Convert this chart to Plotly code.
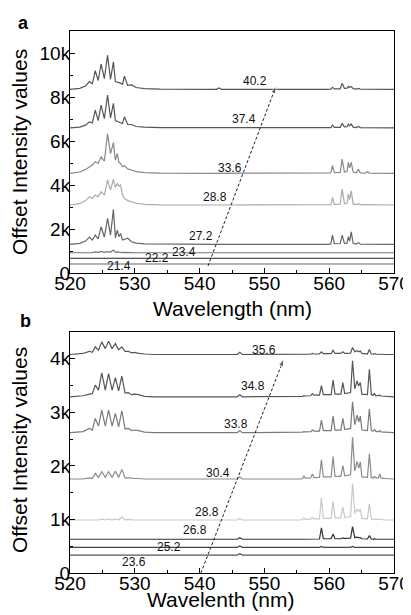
"""Stacked emission spectra, two panels (a, b)."""

import plotly.graph_objects as go

# ---- panel a: wavelength grid (nm) and intensity above each baseline ----
WL_A = [520.0, 521.5, 522.4, 523.0, 523.45, 523.9, 524.35, 524.8, 525.3, 525.8,
        526.25, 526.7, 527.0, 527.3, 527.55, 527.8, 528.1, 528.4, 528.9, 529.5,
        530.2, 531.5, 534.0, 542.6, 543.0, 543.4,
        559.8, 560.25, 560.5, 560.8, 561.7, 562.0, 562.35, 562.75, 562.95, 563.15,
        563.4, 563.7, 564.2, 564.5, 564.8, 565.6, 565.9, 566.2, 570.0]

A_402 = [0, 40, 150, 350, 250, 850, 400, 1150, 480, 1550, 450, 1250, 350, 330, 300,
         280, 230, 600, 180, 200, 80, 30, 10, 0, 60, 0,
         0, 10, 90, 15, 20, 270, 40, 50, 130, 80, 130, 30, 10, 40, 10, 5, 30, 5, 0]
A_374 = [0, 30, 120, 270, 220, 800, 330, 1030, 420, 1490, 450, 1110, 330, 280, 250,
         230, 200, 500, 150, 150, 60, 30, 10, 0, 0, 0,
         0, 10, 120, 15, 20, 200, 40, 50, 170, 90, 170, 30, 10, 60, 10, 5, 30, 5, 0]
A_336 = [0, 60, 180, 300, 380, 530, 450, 750, 550, 1800, 900, 1400, 600, 900, 500,
         450, 300, 350, 200, 150, 80, 30, 10, 0, 0, 0,
         0, 20, 350, 30, 40, 650, 60, 80, 500, 250, 500, 60, 20, 180, 20, 10, 80, 10, 0]
A_288 = [0, 60, 200, 380, 300, 450, 380, 600, 450, 1140, 680, 1170, 800, 990, 850,
         910, 450, 300, 200, 150, 80, 30, 10, 0, 0, 0,
         0, 20, 350, 30, 40, 730, 60, 80, 500, 250, 640, 50, 15, 60, 15, 10, 30, 5, 0]
A_272 = [0, 50, 150, 330, 200, 420, 250, 800, 330, 1180, 420, 1590, 300, 650, 350,
         500, 200, 220, 280, 120, 60, 20, 10, 0, 0, 0,
         0, 20, 420, 30, 40, 420, 50, 60, 350, 150, 570, 40, 15, 80, 15, 10, 20, 5, 0]
A_234 = [0, 0, 10, 30, 10, 40, 20, 60, 20, 50, 30, 120, 20, 40, 20,
         30, 10, 20, 10, 10, 0, 0, 0, 0, 0, 0,
         0, 0, 20, 0, 0, 30, 0, 0, 20, 0, 30, 0, 0, 10, 0, 0, 0, 0, 0]
A_222 = [0, 0, 0, 10, 0, 10, 0, 15, 0, 20, 0, 25, 0, 10, 0,
         10, 0, 10, 0, 0, 0, 0, 0, 0, 0, 0,
         0, 0, 10, 0, 0, 10, 0, 0, 0, 0, 10, 0, 0, 0, 0, 0, 0, 0, 0]
A_214 = [0, 0, 0, 5, 0, 5, 0, 10, 0, 10, 0, 10, 0, 5, 0,
         5, 0, 5, 0, 0, 0, 0, 0, 0, 0, 0,
         0, 0, 5, 0, 0, 5, 0, 0, 0, 0, 5, 0, 0, 0, 0, 0, 0, 0, 0]

A_LABELS = ["40.2", "37.4", "33.6", "28.8", "27.2", "23.4", "22.2", "21.4"]
A_OFFSETS = [8350, 6600, 4530, 3090, 1300, 920, 670, 410]
A_SPECTRA = [A_402, A_374, A_336, A_288, A_272, A_234, A_222, A_214]
A_ARROW_X = [541.3, 551.8]
A_ARROW_Y = [320, 8500]
A_YTICKS = [0, 2000, 4000, 6000, 8000, 10000]
A_YTEXT = ["0", "2k", "4k", "6k", "8k", "10k"]

# ---- panel b ----
WL_B = [520.0, 522.0, 523.0, 523.45, 523.9, 524.4, 524.9, 525.45, 525.95, 526.5,
        527.0, 527.5, 528.0, 528.5, 529.0, 529.5, 530.0, 530.6, 531.5, 533.0,
        545.8, 546.2, 546.6,
        555.5, 555.9, 556.1, 556.3, 557.15, 557.4, 557.65, 558.5, 558.8, 559.1,
        560.3, 560.6, 560.9, 561.8, 562.1, 562.4, 563.3, 563.6, 563.95, 564.3,
        564.55, 564.8, 565.05, 565.9, 566.2, 566.5, 566.8, 567.0, 567.2, 567.6,
        567.8, 568.0, 568.6, 570.0]

B_356 = [0, 20, 60, 40, 143, 80, 236, 110, 249, 110, 205, 90, 143, 60, 60, 30, 40, 20, 10, 0,
         0, 40, 0,
         0, 5, 10, 5, 5, 20, 10, 10, 50, 15, 15, 80, 20, 20, 50, 20, 25, 130, 50, 70,
         50, 70, 20, 10, 93, 10, 5, 20, 5, 5, 10, 5, 0, 0]
B_348 = [0, 20, 50, 60, 218, 125, 448, 125, 435, 125, 360, 110, 385, 70, 80, 40, 50, 40, 10, 0,
         0, 40, 0,
         0, 10, 20, 15, 20, 60, 30, 30, 210, 40, 40, 311, 50, 50, 267, 60, 80, 672, 150, 298,
         200, 267, 50, 40, 516, 40, 30, 60, 20, 20, 30, 15, 10, 0]
B_338 = [0, 20, 80, 50, 267, 125, 423, 125, 423, 125, 360, 110, 410, 70, 80, 40, 50, 40, 10, 0,
         0, 40, 0,
         0, 10, 20, 15, 20, 50, 30, 30, 236, 40, 40, 311, 50, 50, 267, 60, 80, 578, 150, 330,
         200, 310, 50, 40, 442, 40, 30, 60, 20, 20, 40, 15, 10, 0]
B_304 = [0, 0, 20, 10, 106, 30, 137, 30, 137, 30, 150, 30, 180, 20, 20, 10, 10, 10, 0, 0,
         0, 40, 0,
         0, 10, 62, 15, 20, 93, 25, 30, 360, 40, 40, 420, 50, 50, 250, 60, 80, 778, 150, 330,
         200, 320, 40, 30, 470, 30, 20, 50, 20, 20, 93, 15, 10, 0]
B_288 = [0, 0, 0, 0, 10, 0, 15, 0, 20, 0, 20, 0, 60, 0, 10, 0, 0, 0, 0, 0,
         0, 30, 0,
         0, 10, 40, 10, 15, 50, 20, 20, 410, 30, 30, 350, 40, 40, 240, 50, 60, 680, 120, 210,
         150, 205, 30, 20, 300, 20, 10, 20, 10, 10, 20, 10, 0, 0]
B_268 = [0, 0, 0, 0, 0, 0, 0, 0, 0, 0, 0, 0, 0, 0, 0, 0, 0, 0, 0, 0,
         0, 30, 0,
         0, 0, 0, 0, 0, 10, 0, 5, 211, 10, 10, 100, 10, 10, 25, 15, 20, 236, 30, 40,
         30, 30, 10, 5, 68, 5, 0, 10, 0, 0, 0, 0, 0, 0]
B_252 = [0, 0, 0, 0, 0, 0, 0, 0, 0, 0, 0, 0, 0, 0, 0, 0, 0, 0, 0, 0,
         0, 25, 0,
         0, 0, 0, 0, 0, 0, 0, 0, 15, 0, 0, 5, 0, 0, 0, 0, 0, 15, 0, 0,
         0, 0, 0, 0, 5, 0, 0, 0, 0, 0, 0, 0, 0, 0]
B_236 = [0, 0, 0, 0, 0, 0, 0, 0, 0, 0, 0, 0, 0, 0, 0, 0, 0, 0, 0, 0,
         0, 25, 0,
         0, 0, 0, 0, 0, 0, 0, 0, 0, 0, 0, 0, 0, 0, 0, 0, 0, 5, 0, 0,
         0, 0, 0, 0, 0, 0, 0, 0, 0, 0, 0, 0, 0, 0]

B_LABELS = ["35.6", "34.8", "33.8", "30.4", "28.8", "26.8", "25.2", "23.6"]
B_OFFSETS = [4080, 3290, 2620, 1755, 990, 630, 480, 335]
B_SPECTRA = [B_356, B_348, B_338, B_304, B_288, B_268, B_252, B_236]
B_ARROW_X = [540.2, 553.0]
B_ARROW_Y = [0, 4000]
B_YTICKS = [0, 1000, 2000, 3000, 4000]
B_YTEXT = ["0", "1k", "2k", "3k", "4k"]

X_TICKS = [520, 530, 540, 550, 560, 570]

# styling / placement
A_COLORS = ["#555555", "#555555", "#888888", "#aaaaaa", "#666666", "#777777", "#222222", "#666666"]
B_COLORS = ["#555555", "#555555", "#7a7a7a", "#8c8c8c", "#c8c8c8", "#333333", "#444444", "#555555"]
A_LABEL_POS = [(548.5, 8730), (546.9, 7000), (544.7, 4770), (542.4, 3450),
               (540.2, 1680), (537.6, 950), (533.4, 680), (527.6, 320)]
B_LABEL_POS = [(550.0, 4160), (548.2, 3500), (545.6, 2790), (542.8, 1860),
               (541.1, 1130), (539.3, 800), (535.3, 480), (529.8, 210)]

FONT = "Liberation Sans, Arial, sans-serif"

fig = go.Figure()
annotations = []


def add_panel(xref, yref, wl, spectra, offsets, colors, labels, label_pos, ax, ay):
    for spec, off, col in zip(spectra, offsets, colors):
        fig.add_trace(go.Scatter(
            x=wl, y=[off + v for v in spec], mode="lines",
            line=dict(color=col, width=1.2), xaxis=xref, yaxis=yref,
            hoverinfo="skip", showlegend=False,
        ))
    fig.add_trace(go.Scatter(
        x=ax, y=ay, mode="lines+markers",
        line=dict(color="#222222", width=1, dash="3px,2px"),
        marker=dict(symbol="arrow", angleref="previous", size=[0, 8], color="#222222"),
        xaxis=xref, yaxis=yref, hoverinfo="skip", showlegend=False,
    ))
    for text, (lx, ly) in zip(labels, label_pos):
        annotations.append(dict(
            x=lx, y=ly, xref=xref, yref=yref, text=text, showarrow=False,
            font=dict(size=12, color="#111111", family=FONT),
        ))


add_panel("x", "y", WL_A, A_SPECTRA, A_OFFSETS, A_COLORS, A_LABELS, A_LABEL_POS,
          A_ARROW_X, A_ARROW_Y)
add_panel("x2", "y2", WL_B, B_SPECTRA, B_OFFSETS, B_COLORS, B_LABELS, B_LABEL_POS,
          B_ARROW_X, B_ARROW_Y)


def paper_text(text, x, y, size, angle=0, bold=False, xanchor="center", yanchor="middle"):
    annotations.append(dict(
        x=x, y=y, xref="paper", yref="paper", xanchor=xanchor, yanchor=yanchor,
        text=f"<b>{text}</b>" if bold else text, textangle=angle, showarrow=False,
        font=dict(size=size, color="black", family=FONT),
    ))


# panel letters (anchored at their top-left corner) and axis titles
paper_text("a", -0.166, 1.036, 18, bold=True, xanchor="left", yanchor="top")
paper_text("b", -0.160, 0.487, 18, bold=True, xanchor="left", yanchor="top")
paper_text("Wavelength (nm)", 0.5, 0.4889, 21)
paper_text("Wavelenth (nm)", 0.463, -0.048, 21)
paper_text("Offset Intensity values", -0.154, 0.7768, 21, angle=-90)
paper_text("Offset Intensity values", -0.154, 0.227, 21, angle=-90)

axis_common = dict(
    showline=True, linecolor="black", linewidth=1, mirror=True,
    ticks="inside", ticklen=5, tickcolor="black", showgrid=False, zeroline=False,
    tickfont=dict(size=19, color="black", family=FONT), automargin=False,
    ticklabeloverflow="allow",
)
x_minor = dict(ticks="inside", ticklen=3, dtick=5, tick0=520, tickcolor="black")

# the page body adds an 8px margin on the left/top, so shrink the figure by 8px
fig.update_layout(
    width=403, height=607,
    margin=dict(l=62, r=17, t=23, b=42, autoexpand=False),
    paper_bgcolor="white", plot_bgcolor="white",
    font=dict(family=FONT, color="black"),
    annotations=annotations,
    xaxis=dict(domain=[0, 1], range=[520, 570], anchor="y", tickvals=X_TICKS,
               minor=x_minor, ticklabelstandoff=-7, **axis_common),
    yaxis=dict(domain=[0.5535, 1], range=[0, 11000], anchor="x",
               tickvals=A_YTICKS, ticktext=A_YTEXT, ticklabelstandoff=-5,
               minor=dict(ticks="inside", ticklen=3, dtick=1000, tick0=0, tickcolor="black"),
               **axis_common),
    xaxis2=dict(domain=[0, 1], range=[520, 570], anchor="y2", tickvals=X_TICKS,
                minor=x_minor, ticklabelstandoff=-7, **axis_common),
    yaxis2=dict(domain=[0, 0.4446], range=[0, 4500], anchor="x2",
                tickvals=B_YTICKS, ticktext=B_YTEXT, ticklabelstandoff=-5,
                minor=dict(ticks="inside", ticklen=3, dtick=500, tick0=0, tickcolor="black"),
                **axis_common),
)

fig.write_html("out.html")
